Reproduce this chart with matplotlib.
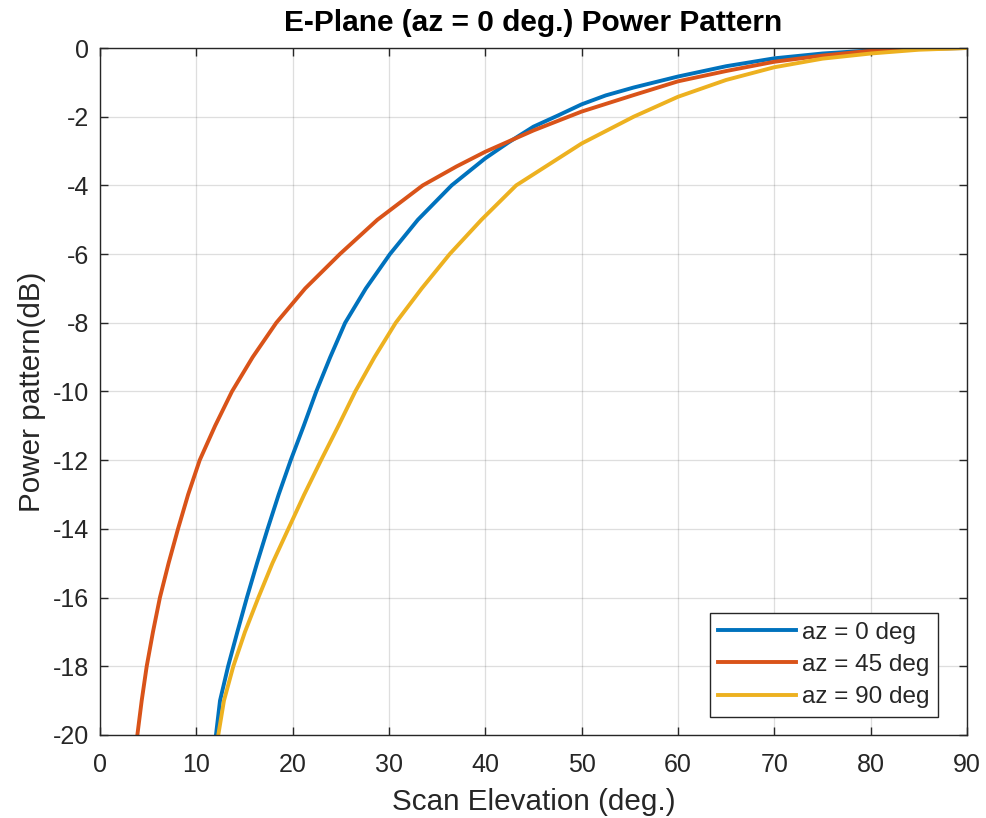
import matplotlib
matplotlib.use("Agg")
import matplotlib.pyplot as plt

# Data (scan elevation in deg., power pattern in dB)
el_az0 = [12.04, 12.46, 13.3, 14.26, 15.25, 16.3, 17.4, 18.55, 19.8, 21.15, 22.45, 23.9, 25.45, 27.6, 30.1,
          33.0, 36.5, 40.0, 42.4, 45.0, 47.5, 50.0, 52.5, 55.4, 60.0, 65.0, 70.0, 75.0, 80.0, 85.0, 90.0]
pp_az0 = [-20, -19, -18, -17, -16, -15, -14, -13, -12, -11, -10, -9, -8, -7, -6,
          -5.0, -4.0, -3.21, -2.75, -2.29, -1.97, -1.64, -1.38, -1.15, -0.83, -0.53, -0.30, -0.16, -0.07, -0.02, 0.0]

el_az45 = [3.88, 4.33, 4.85, 5.5, 6.22, 7.12, 8.1, 9.15, 10.35, 11.95, 13.7, 15.85, 18.3, 21.3, 24.9, 28.8,
           33.5, 37.0, 40.0, 42.9, 45.0, 50.0, 55.4, 60.0, 65.0, 70.0, 75.0, 80.0, 85.0, 90.0]
pp_az45 = [-20, -19, -18, -17, -16, -15, -14, -13, -12, -11, -10, -9, -8, -7, -6, -5,
           -4, -3.45, -3.02, -2.66, -2.40, -1.85, -1.37, -0.97, -0.67, -0.40, -0.22, -0.08, -0.02, 0.0]

el_az90 = [12.28, 12.87, 13.84, 15.05, 16.44, 17.9, 19.55, 21.2, 22.95, 24.75, 26.5, 28.5, 30.7, 33.4,
           36.3, 39.6, 43.2, 50.0, 55.4, 60.0, 65.0, 70.0, 75.0, 80.0, 85.0, 90.0]
pp_az90 = [-20, -19, -18, -17, -16, -15, -14, -13, -12, -11, -10, -9, -8, -7,
           -6, -5, -4, -2.78, -2.0, -1.42, -0.93, -0.56, -0.31, -0.16, -0.05, 0.0]

labels = ["az = 0 deg", "az = 45 deg", "az = 90 deg"]
colors = ["#0072BD", "#D95319", "#EDB120"]
xticks = list(range(0, 91, 10))
yticks = list(range(-20, 1, 2))

plt.rcParams['font.family'] = ['Liberation Sans', 'DejaVu Sans']
plt.rcParams['axes.unicode_minus'] = False

fig = plt.figure(figsize=(9.87, 8.18), dpi=100)
ax = fig.add_axes([0.1013, 0.1015, 0.8784, 0.8398])

for x, y, lab, c in zip([el_az0, el_az45, el_az90], [pp_az0, pp_az45, pp_az90], labels, colors):
    ax.plot(x, y, color=c, lw=2.8, label=lab, solid_joinstyle='round')

ax.set_xlim(0, 90)
ax.set_ylim(-20, 0)
ax.set_xticks(xticks)
ax.set_yticks(yticks)
ax.grid(True, color='#262626', alpha=0.15, lw=0.9)
ax.tick_params(direction='in', top=True, right=True, labelsize=18, colors='#262626', length=6, width=1.0)
ax.tick_params(axis='x', pad=13)
ax.tick_params(axis='y', pad=8)
for s in ax.spines.values():
    s.set_color('#262626')
    s.set_linewidth(1.0)

ax.set_title("E-Plane (az = 0 deg.) Power Pattern", fontsize=21.5, fontweight='bold', color='#000000', pad=12)
ax.set_xlabel("Scan Elevation (deg.)", fontsize=21.3, color='#262626', labelpad=8)
ax.set_ylabel("Power pattern(dB)", fontsize=21.3, color='#262626', labelpad=5)

leg = ax.legend(loc='lower right', fontsize=17.5, frameon=True, fancybox=False,
                edgecolor='#262626', handlelength=3.2, handletextpad=0.25, borderpad=0.35,
                labelspacing=0.43, borderaxespad=0, bbox_to_anchor=(0.9666, 0.0262))
leg.get_frame().set_linewidth(1.0)
leg.get_frame().set_alpha(1)
for t in leg.get_texts():
    t.set_color('#262626')

fig.savefig("out.png", dpi=100)
